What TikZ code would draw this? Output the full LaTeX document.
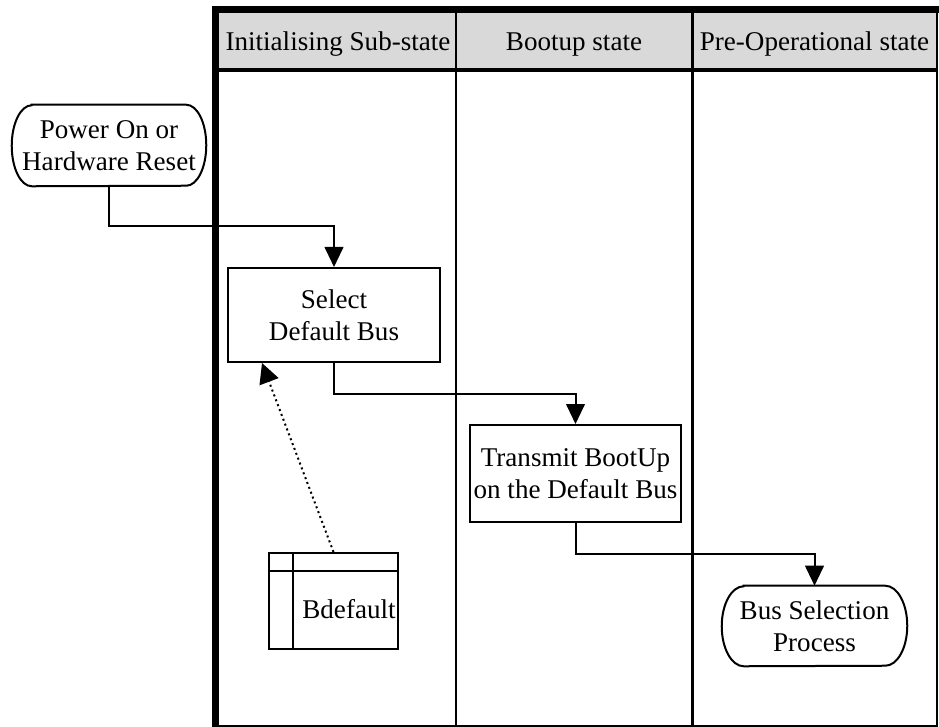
\documentclass[tikz,border=0pt]{standalone}
\usepackage{fontspec}
\setmainfont{Liberation Serif}
\usetikzlibrary{arrows.meta,calc}
\definecolor{lanegray}{RGB}{217,217,217}

% outline of a terminal node: flat top and bottom, half-ellipse ends
\newcommand\drawterminal[3]{%
  \draw[line width=1.5pt]
    ([xshift=#2]#1.north west) -- ([xshift=-#2]#1.north east)
    arc[start angle=90,end angle=-90,x radius=#2,y radius=#3]
    -- ([xshift=#2]#1.south west)
    arc[start angle=270,end angle=90,x radius=#2,y radius=#3]
    -- cycle;}

\begin{document}
\begin{tikzpicture}[x=0.75pt,y=-0.75pt,
  txt/.style={font=\fontsize{20.3}{24}\selectfont, align=center, inner sep=0pt},
  procbox/.style={txt, draw, line width=1.5pt},
  terminal/.style={txt},
  flow/.style={line width=1.5pt, -{Triangle[length=15pt,width=14pt]}},
  dotflow/.style={line width=1.5pt, dash pattern=on 1.5pt off 2.4pt,
                  -{Triangle[length=15pt,width=15pt]}},
  lane/.style={line width=2pt},
]
\useasboundingbox (0,0) rectangle (939,727);

% swimlane frame
\fill[lanegray] (219,13) rectangle (936,69);
\draw[line width=5.25pt] (212,9.5) -- (939,9.5);
\draw[line width=5.25pt] (215.5,6) -- (215.5,727);
\draw[line width=2.5pt] (218,70) -- (937,70);
\draw[lane] (456,13) -- (456,726);
\draw[lane] (692.5,13) -- (692.5,726);
\draw[line width=1.5pt] (937,6) -- (937,727);
\draw[line width=1.5pt] (212,726) -- (937.75,726);

% lane headings
\node[txt, anchor=base] (h1) at (338,51) {Initialising Sub-state};
\node[txt, anchor=base] (h2) at (574,51) {Bootup state};
\node[txt, anchor=base] (h3) at (814.5,51) {Pre-Operational state};

% nodes
\node[terminal, minimum width=145.5pt, minimum height=60.75pt]
  (pwr) at (109,145.5) {Power On or\\Hardware Reset};
\drawterminal{pwr}{15pt}{30.375pt}

\node[procbox, minimum width=159pt, minimum height=70.5pt]
  (sel) at (334,315) {Select\\Default Bus};

\node[procbox, minimum width=158.25pt, minimum height=72.75pt]
  (tx) at (575.5,473.5) {Transmit BootUp\\on the Default Bus};

\node[terminal, minimum width=138.75pt, minimum height=60pt]
  (bus) at (814.5,626) {Bus Selection\\Process};
\drawterminal{bus}{16.5pt}{30pt}

% data table
\node[draw, line width=1.5pt, minimum width=96.75pt, minimum height=72pt, inner sep=0pt]
  (bdef) at (333.5,601) {};
\draw[line width=1.5pt] ($(bdef.north west)+(0,19)$) -- ($(bdef.north east)+(0,19)$);
\draw[line width=1.5pt] ($(bdef.north west)+(25,0)$) -- ($(bdef.south west)+(25,0)$);
\node[txt, anchor=base] (bdeflabel) at (349,618) {Bdefault};

% connectors
\draw[flow] (pwr.south) -- ++(0,40) -| (sel.north);
\draw[flow] (sel.south) -- ++(0,31) -| (tx.north);
\draw[flow] (tx.south) -- ++(0,31) -| (bus.north);
\draw[dotflow] (bdef.north) -- ($(sel.south west)+(35,0)$);
\end{tikzpicture}
\end{document}
